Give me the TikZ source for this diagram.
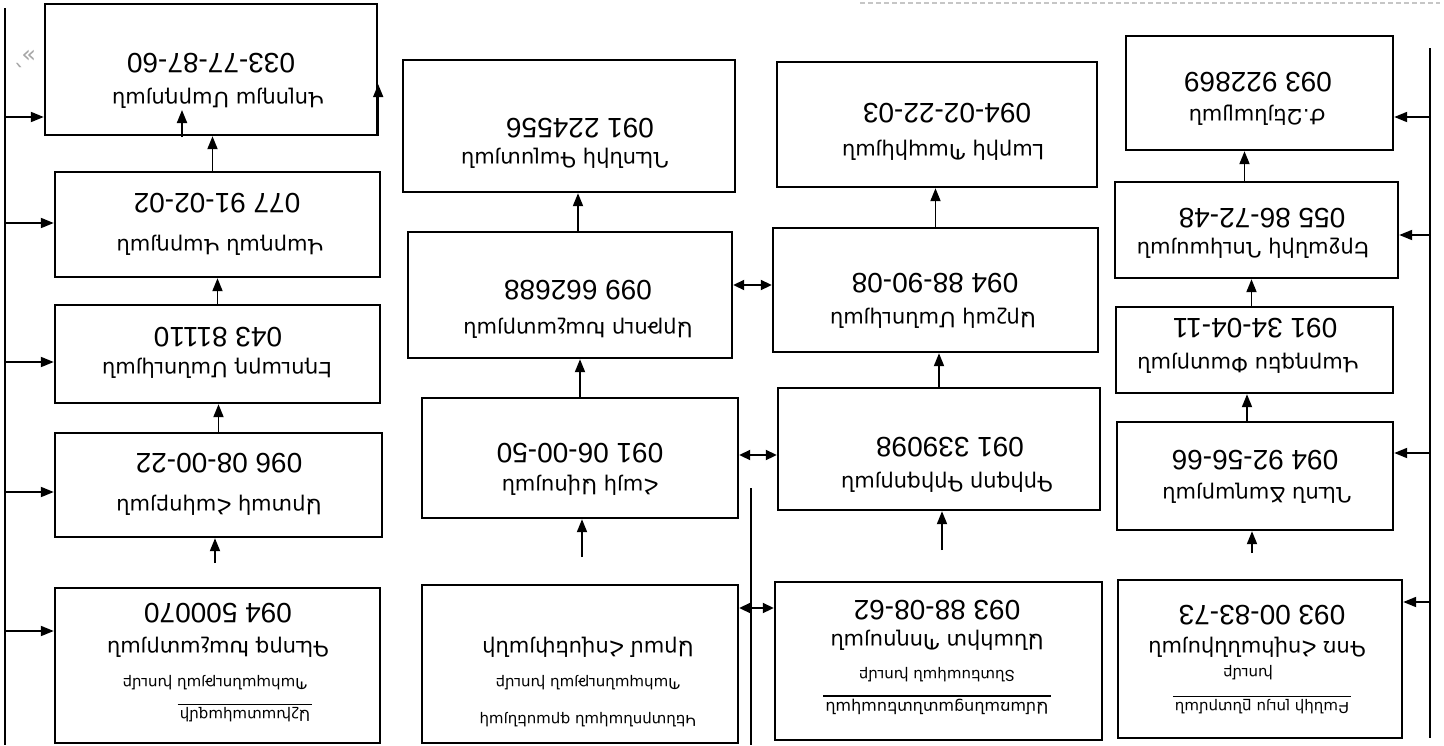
\documentclass[tikz,border=0pt]{standalone}
\usepackage{fontspec}
\setmainfont{DejaVu Sans}
\newfontfamily\numfont{Liberation Sans}
\newfontfamily\armfont{DejaVu Sans}
\usetikzlibrary{arrows.meta,calc}
\tikzset{
 box/.style={draw, line width=2.4pt, inner sep=0pt},
 arr/.style={line width=1.9pt, -{Triangle[length=13pt,width=10pt]}},
 darr/.style={line width=1.9pt, {Triangle[length=11pt,width=10pt]}-{Triangle[length=11pt,width=10pt]}},
 rail/.style={line width=1.8pt},
 ph/.style={rotate=180, font=\numfont\fontsize{28}{30}\selectfont, inner sep=0pt},
 nm/.style={rotate=180, font=\armfont\fontsize{21}{24}\selectfont, inner sep=0pt},
 tl/.style={rotate=180, font=\armfont\fontsize{15}{20}\selectfont, inner sep=0pt},
 ul/.style={line width=1.2pt},
}
\newcommand\bx[5]{\node[box, minimum width={#4-#2}, minimum height={#5-#3}] (#1) at ({(#2+#4)/2},{(#3+#5)/2}) {};}
\begin{document}
\begin{tikzpicture}[x=1pt,y=-1pt]
\useasboundingbox (0,0) rectangle (1444,745);
% boxes
\bx{a1}{45}{4}{377}{135}
\bx{a2}{55}{172}{380}{277}
\bx{a3}{55}{305}{380}{403}
\bx{a4}{55}{433}{382}{537}
\bx{a5}{55}{588}{380}{743}
\bx{b1}{403}{60}{735}{192}
\bx{b2}{408}{232}{732}{358}
\bx{b3}{422}{398}{738}{518}
\bx{b4}{422}{585}{738}{743}
\bx{c1}{777}{62}{1097}{187}
\bx{c2}{773}{228}{1098}{352}
\bx{c3}{778}{388}{1100}{510}
\bx{c4}{775}{582}{1102}{740}
\bx{d1}{1126}{36}{1393}{150}
\bx{d2}{1115}{182}{1398}{278}
\bx{d3}{1116}{307}{1393}{393}
\bx{d4}{1117}{422}{1393}{530}
\bx{d5}{1118}{580}{1402}{738}
% texts (the page is printed upside down)
\node[ph] (a1p) at (211,63) {033-77-87-60};
\node[nm] (a1n) at (218,98) {Վոլոդյա Մարդոյան};
\node[ph] (a2p) at (217,203) {077 91-02-02};
\node[nm] (a2n) at (220,245) {Վարդան Վարդյան};
\node[ph] (a3p) at (218,337) {043 81110};
\node[nm] (a3n) at (217,368) {Էդուարդ Մանուկյան};
\node[ph] (a4p) at (219,463) {096 08-00-22};
\node[nm] (a4n) at (219,505) {Արտակ Հակոբյան};
\node[ph] (a5p) at (218,613) {094 500070};
\node[nm] (a5n) at (218,647) {Գևորգ Խաչատրյան};
\node[tl] (a5g) at (215,683) {Պահպանության խումբ};
\node[tl] (a5t) at (245,715) {Աշխատակազմի};
\draw[ul] ($(a5t.south east)+(-2,-3)$) -- ($(a5t.south west)+(2,-3)$);
\node[ph] (b1p) at (580,128) {091 224556};
\node[nm] (b1n) at (565,158) {Ղևոնիկ Գալստյան};
\node[ph] (b2p) at (578,290) {099 662688};
\node[nm] (b2n) at (578,328) {Արթուր Խաչատրյան};
\node[ph] (b3p) at (580,453) {091 06-00-50};
\node[nm] (b3n) at (580,485) {Հայկ Ավոսյան};
\node[nm] (b4n) at (588,647) {Արամ Հովսեփյանի};
\node[tl] (b4g) at (588,683) {Պահպանության խումբ};
\node[tl] (b4t) at (588,720) {Կենտրոնական գրասենյակ};
\node[ph] (c1p) at (947,113) {094-02-22-03};
\node[nm] (c1n) at (943,150) {Լարիկ Պապիկյան};
\node[ph] (c2p) at (935,283) {094 88-90-08};
\node[nm] (c2n) at (933,318) {Արշակ Մանուկյան};
\node[ph] (c3p) at (950,447) {091 339098};
\node[nm] (c3n) at (947,482) {Գրիգոր Գրիգորյան};
\node[ph] (c4p) at (937,610) {093 88-08-62};
\node[nm] (c4n) at (937,640) {Անահիտ Պողոսյան};
\node[tl] (c4g) at (937,675) {Տնտեսական խումբ};
\node[tl,font=\armfont\fontsize{16}{20}\selectfont] (c4t) at (937,707) {Ամառանոցատնտեսական};
\draw[ul] ($(c4t.south east)+(-2,-3)$) -- ($(c4t.south west)+(2,-3)$);
\node[ph] (d1p) at (1258,82) {093 922869};
\node[nm] (d1n) at (1257,115) {Ժ.Զեյնալյան};
\node[ph] (d2p) at (1262,218) {055 86-72-48};
\node[nm] (d2n) at (1253,248) {Երջանիկ Ղուկասյան};
\node[ph] (d3p) at (1255,328) {091 34-04-11};
\node[nm] (d3n) at (1248,363) {Վարդգես Փատրյան};
\node[ph] (d4p) at (1255,460) {094 92-56-66};
\node[nm] (d4n) at (1257,493) {Ղևոն Ճաղարյան};
\node[ph] (d5p) at (1262,615) {093 00-83-73};
\node[nm] (d5n) at (1257,647) {Գոռ Հովհաննիսյան};
\node[tl] (d5g) at (1248,673) {խումբ};
\node[tl] (d5t) at (1262,707) {Բանկի լույս ընտրման};
\draw[ul] ($(d5t.south east)+(-2,-3)$) -- ($(d5t.south west)+(2,-3)$);
\node[rotate=180, text=gray!70, font=\armfont\fontsize{24}{24}\selectfont] (q) at (26,58) {»՝};
% faint cut-off line at the top right
\draw[gray!45, line width=1.5pt, dash pattern=on 5pt off 3pt] (860,3) -- (1440,3);
% rails
\coordinate (Ltop) at (5,8);   \coordinate (Lbot) at (5,745);
\coordinate (Rtop) at (1430,48); \coordinate (Rbot) at (1430,738);
\coordinate (Mtop) at (751,488); \coordinate (Mbot) at (751,745);
\draw[rail] (Ltop) -- (Lbot);
\draw[rail] (Rtop) -- (Rbot);
\draw[rail] (Mtop) -- (Mbot);
% left feeders
\foreach \n/\y in {a1/117,a2/223,a3/362,a4/492,a5/631}
  \draw[arr] (Ltop |- 0,\y) -- (\n.west |- 0,\y);
% right feeders
\foreach \n/\y in {d1/117,d2/235,d4/453,d5/602}
  \draw[arr] (Rtop |- 0,\y) -- (\n.east |- 0,\y);
% column A
\draw[arr] ($(a2.north)+(-5,0)$) -- ($(a2.north |- a1.south)+(-5,0)$);
\draw[arr] (a3.north) -- (a3.north |- a2.south);
\draw[arr] (a4.north) -- (a4.north |- a3.south);
\coordinate (a5s) at (215,563);
\draw[arr] (a5s) -- (a5s |- a4.south);
\coordinate (a1s) at (182,137);
\draw[arr] (a1s) -- ++(0,-27);
\draw[arr] (a1.south east) -- ++(0,-52);
% column B
\draw[arr] ($(b2.north)+(8,0)$) -- ($(b2.north |- b1.south)+(8,0)$);
\draw[arr] (b3.north) -- (b3.north |- b2.south);
\coordinate (b3s) at (582,557);
\draw[arr] (b3s) -- (b3s |- b3.south);
% column C
\draw[arr] (c2.north) -- (c2.north |- c1.south);
\draw[arr] (c3.north) -- (c3.north |- c2.south);
\coordinate (c3s) at (942,550);
\draw[arr] (c3s) -- (c3s |- c3.south);
% column D
\draw[arr] ($(d2.north)+(-12,0)$) -- ($(d2.north |- d1.south)+(-12,0)$);
\draw[arr] ($(d3.north)+(-3,0)$) -- ($(d3.north |- d2.south)+(-3,0)$);
\draw[arr] ($(d4.north)+(-8,0)$) -- ($(d4.north |- d3.south)+(-8,0)$);
\coordinate (d4s) at (1252,553);
\draw[arr] (d4s) -- (d4s |- d4.south);
% links between B and C
\draw[darr] (b2.east |- 0,285) -- (c2.west |- 0,285);
\draw[darr] (b3.east |- 0,455) -- (c3.west |- 0,455);
\draw[darr] (b4.east |- 0,608) -- (c4.west |- 0,608);
\end{tikzpicture}
\end{document}
